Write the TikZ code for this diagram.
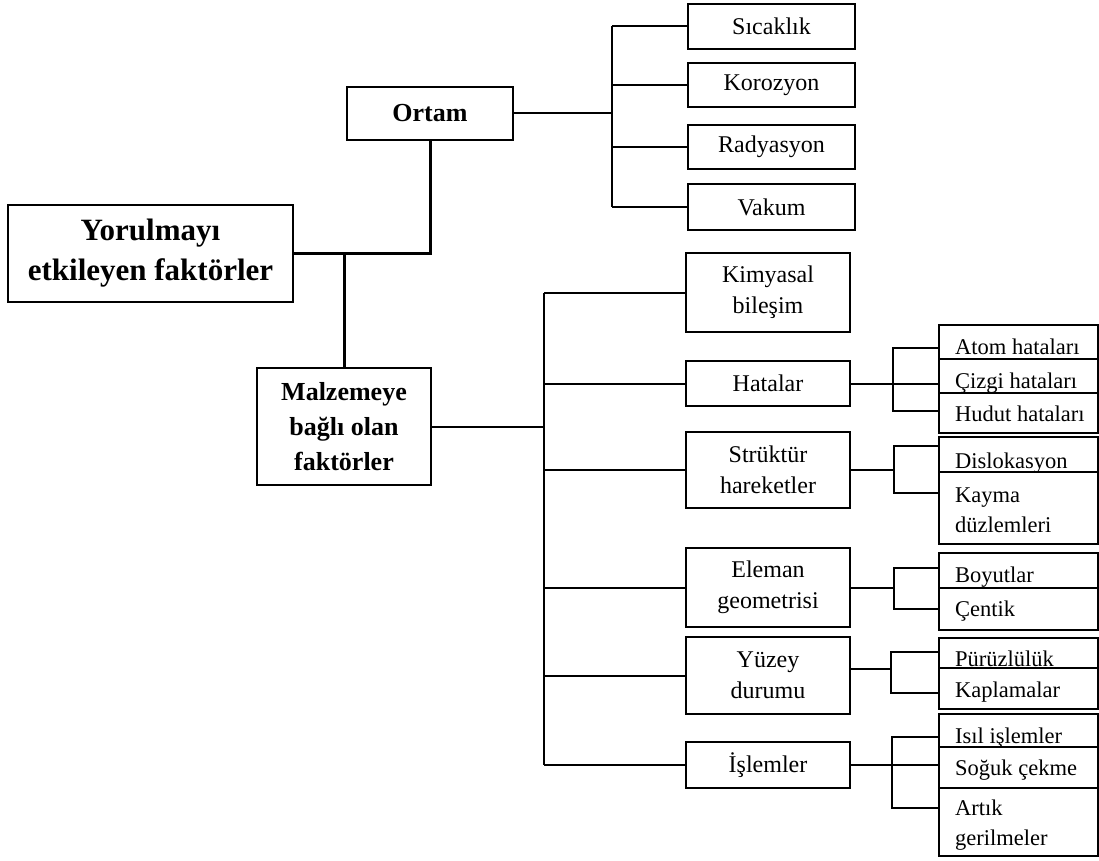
\documentclass[tikz,border=0pt]{standalone}
\usepackage{fontspec}
\setmainfont{Liberation Serif}
\usetikzlibrary{calc}
\begin{document}
\begin{tikzpicture}[x=1pt,y=-1pt,
  box/.style={draw, line width=1.3pt, inner sep=0pt, align=center, font=\fontsize{24}{31}\selectfont},
  bbox/.style={box, line width=1.6pt, font=\bfseries\fontsize{26}{35}\selectfont},
  tbox/.style={box, line width=2pt, font=\bfseries\fontsize{31}{40}\selectfont},
  cell/.style={draw, line width=1.3pt, inner sep=0pt, minimum width=159pt},
  ctext/.style={anchor=base west, inner sep=0pt, align=left, font=\fontsize{22.5}{30}\selectfont},
  conn/.style={line width=2pt},
  tconn/.style={line width=3pt}]
\useasboundingbox (0,0) rectangle (1099,861);

% left
\node[tbox, minimum width=285pt, minimum height=97pt] (main) at (150.5,253.5) {Yorulmayı\\etkileyen faktörler};
\node[bbox, minimum width=166pt, minimum height=53pt] (ortam) at (430,113.5) {Ortam};
\node[bbox, minimum width=174pt, minimum height=117pt] (malz) at (344,426.5) {Malzemeye\\bağlı olan\\faktörler};

% ortam children
\node[box, minimum width=167pt, minimum height=45pt] (sic) at (771.5,26.5) {Sıcaklık};
\node[box, minimum width=167pt, minimum height=44pt] (kor) at (771.5,85) {Korozyon};
\node[box, minimum width=167pt, minimum height=44pt] (rad) at (771.5,147) {Radyasyon};
\node[box, minimum width=167pt, minimum height=46pt] (vak) at (771.5,207) {Vakum};

% middle column
\node[box, minimum width=164pt, minimum height=79pt] (kim) at (768,292.5) {Kimyasal\\bileşim};
\node[box, minimum width=164pt, minimum height=45pt] (hat) at (768,383.5) {Hatalar};
\node[box, minimum width=164pt, minimum height=76pt] (str) at (768,470) {Strüktür\\hareketler};
\node[box, minimum width=164pt, minimum height=79pt] (ele) at (768,587.5) {Eleman\\geometrisi};
\node[box, minimum width=164pt, minimum height=77pt] (yuz) at (768,675.5) {Yüzey\\durumu};
\node[box, minimum width=164pt, minimum height=46pt] (isl) at (768,765) {İşlemler};

% right cells
\node[cell, minimum height=34pt] (atom) at (1018.5,342) {};
\node[cell, minimum height=34pt] (cizgi) at (1018.5,376) {};
\node[cell, minimum height=40pt] (hudut) at (1018.5,413) {};
\node[cell, minimum height=35pt] (dis) at (1018.5,454.5) {};
\node[cell, minimum height=72pt] (kay) at (1018.5,508) {};
\node[cell, minimum height=35pt] (boy) at (1018.5,570.5) {};
\node[cell, minimum height=42pt] (cen) at (1018.5,609) {};
\node[cell, minimum height=30pt] (pur) at (1018.5,653) {};
\node[cell, minimum height=41pt] (kap) at (1018.5,688.5) {};
\node[cell, minimum height=33pt] (isil) at (1018.5,730.5) {};
\node[cell, minimum height=41pt] (sog) at (1018.5,767.5) {};
\node[cell, minimum height=68pt] (art) at (1018.5,822) {};

\node[ctext] (tatom) at (955,354) {Atom hataları};
\node[ctext] (tcizgi) at (955,388) {Çizgi hataları};
\node[ctext] (thudut) at (955,421) {Hudut hataları};
\node[ctext] (tdis) at (955,468) {Dislokasyon};
\node[ctext] (tkay) at (955,532) {Kayma\\düzlemleri};
\node[ctext] (tboy) at (955,582) {Boyutlar};
\node[ctext] (tcen) at (955,616) {Çentik};
\node[ctext] (tpur) at (955,666) {Pürüzlülük};
\node[ctext] (tkap) at (955,697) {Kaplamalar};
\node[ctext] (tisil) at (955,743) {Isıl işlemler};
\node[ctext] (tsog) at (955,775) {Soğuk çekme};
\node[ctext] (tart) at (955,845) {Artık\\gerilmeler};

% main connectors
\draw[tconn] (main.east) -- (main.east -| ortam.south) -- (ortam.south);
\draw[tconn] (main.east -| malz.north) -- (malz.north);

% ortam trunk
\coordinate (ot) at (612,0);
\draw[conn] (ortam.east) -- (ortam.east -| ot);
\draw[conn] (sic.west -| ot) -- (vak.west -| ot);
\foreach \n in {sic,kor,rad,vak} \draw[conn] (\n.west -| ot) -- (\n.west);

% middle trunk
\coordinate (mt) at (544,0);
\draw[conn] (malz.east) -- (malz.east -| mt);
\draw[conn] (kim.west -| mt) -- (isl.west -| mt);
\foreach \n in {kim,hat,str,ele,yuz,isl} \draw[conn] (\n.west -| mt) -- (\n.west);

% brackets
\coordinate (hb) at (893,0);
\draw[conn] (hat.east) -- (hat.east -| cizgi.west);
\draw[conn] ($(atom.west)+(0,6)$) -| ($(hudut.west -| hb)+(0,-2)$) -- ($(hudut.west)+(0,-2)$);

\coordinate (sb) at (894,0);
\draw[conn] (str.east) -- (str.east -| sb);
\draw[conn] ($(dis.west)+(0,-8.5)$) -| ($(kay.west -| sb)+(0,-15)$) -- ($(kay.west)+(0,-15)$);

\coordinate (eb) at (894,0);
\draw[conn] (ele.east) -- (ele.east -| eb);
\draw[conn] ($(boy.west)+(0,-2.5)$) -| (cen.west -| eb) -- (cen.west);

\coordinate (yb) at (891,0);
\draw[conn] ($(yuz.east)+(0,-6.5)$) -- ($(yuz.east -| yb)+(0,-6.5)$);
\draw[conn] ($(pur.west)+(0,-1)$) -| ($(kap.west -| yb)+(0,4.5)$) -- ($(kap.west)+(0,4.5)$);

\coordinate (ib) at (892,0);
\draw[conn] (isl.east) -- (isl.east -| sog.west);
\draw[conn] ($(isil.west)+(0,6.5)$) -| ($(art.west -| ib)+(0,-14)$) -- ($(art.west)+(0,-14)$);
\end{tikzpicture}
\end{document}
